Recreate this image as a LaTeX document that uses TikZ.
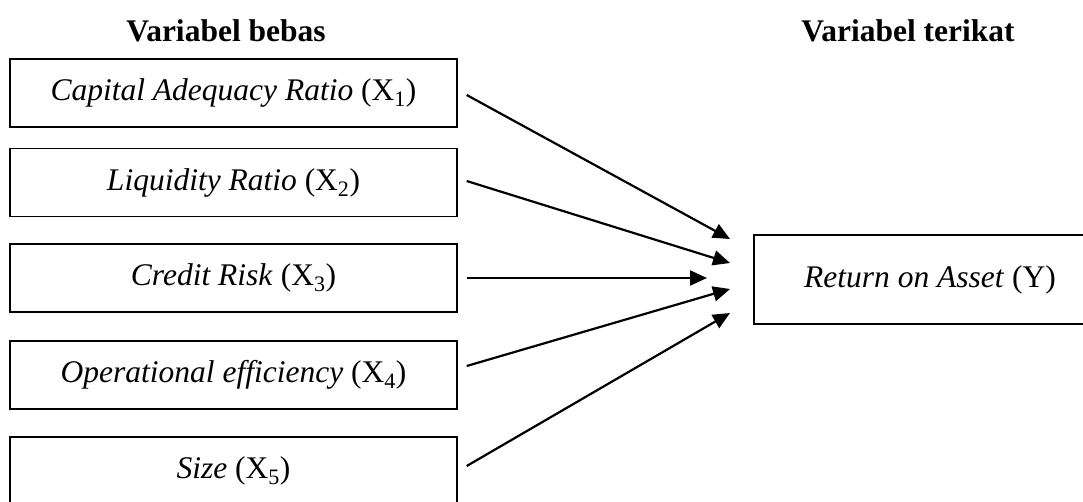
\documentclass[tikz,border=0pt]{standalone}
\usepackage{fontspec}
\setmainfont{Liberation Serif}
\usetikzlibrary{arrows.meta}
\tikzset{
  varbox/.style={draw=black, line width=1.4pt, minimum width=447pt, minimum height=68pt, inner sep=0pt,
    font=\fontsize{31.5}{38}\selectfont},
  ybox/.style={draw=black, line width=1.4pt, minimum width=352pt, minimum height=89pt, inner sep=0pt,
    font=\fontsize{31.5}{38}\selectfont},
  heading/.style={font=\fontsize{31.5}{38}\selectfont\bfseries, anchor=base, inner sep=0pt},
  link/.style={line width=2.2pt, -{Triangle[length=17pt,width=15pt]}}
}
\begin{document}
\begin{tikzpicture}[x=1pt,y=-1pt]
\clip (0,0) rectangle (1083,501);
\fill[white] (0,0) rectangle (1083,501);
\node[heading] (h1) at (226,41) {Variabel bebas};
\node[heading] (h2) at (908,41) {Variabel terikat};
\node[varbox] (b1) at (233.5,93) {\textit{Capital Adequacy Ratio} (X\textsubscript{1})};
\node[varbox] (b2) at (233.5,182.5) {\textit{Liquidity Ratio} (X\textsubscript{2})};
\node[varbox] (b3) at (233.5,278) {\textit{Credit Risk} (X\textsubscript{3})};
\node[varbox] (b4) at (233.5,375) {\textit{Operational efficiency} (X\textsubscript{4})};
\node[varbox] (b5) at (233.5,471) {\textit{Size} (X\textsubscript{5})};
\node[ybox] (y) at (930,279.5) {\textit{Return on Asset} (Y)};
\coordinate (t1) at (730,239);
\coordinate (t2) at (730,263);
\coordinate (t3) at (707,278);
\coordinate (t4) at (730,289);
\coordinate (t5) at (730,313);
\draw[link] ([xshift=9pt,yshift=-2pt]b1.east) -- (t1);
\draw[link] ([xshift=9pt,yshift=1.5pt]b2.east) -- (t2);
\draw[link] ([xshift=9pt]b3.east) -- (t3);
\draw[link] ([xshift=9pt,yshift=9pt]b4.east) -- (t4);
\draw[link] ([xshift=9pt,yshift=5pt]b5.east) -- (t5);
\end{tikzpicture}
\end{document}
